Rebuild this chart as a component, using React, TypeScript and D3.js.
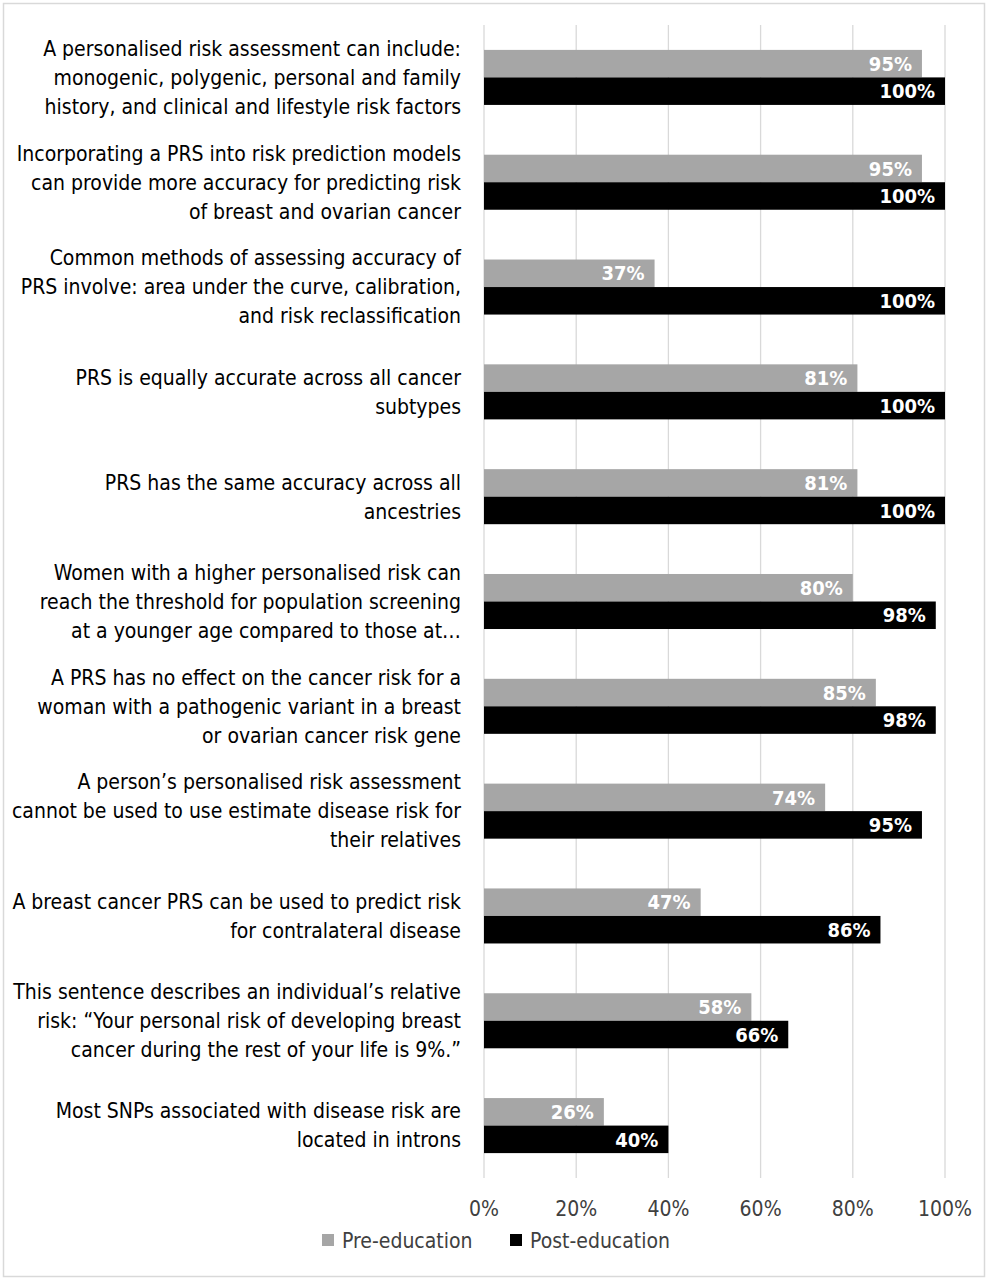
import React, { useEffect, useRef } from 'react';
import * as d3 from 'd3';

const categories: string[][] = [
    ["A personalised risk assessment can include:", "monogenic, polygenic, personal and family", "history, and clinical and lifestyle risk factors"],
    ["Incorporating a PRS into risk prediction models", "can provide more accuracy for predicting risk", "of breast and ovarian cancer"],
    ["Common methods of assessing accuracy of", "PRS involve: area under the curve, calibration,", "and risk reclassification"],
    ["PRS is equally accurate across all cancer", "subtypes"],
    ["PRS has the same accuracy across all", "ancestries"],
    ["Women with a higher personalised risk can", "reach the threshold for population screening", "at a younger age compared to those at\u2026"],
    ["A PRS has no effect on the cancer risk for a", "woman with a pathogenic variant in a breast", "or ovarian cancer risk gene"],
    ["A person\u2019s personalised risk assessment", "cannot be used to use estimate disease risk for", "their relatives"],
    ["A breast cancer PRS can be used to predict risk", "for contralateral disease"],
    ["This sentence describes an individual\u2019s relative", "risk: \u201cYour personal risk of developing breast", "cancer during the rest of your life is 9%.\u201d"],
    ["Most SNPs associated with disease risk are", "located in introns"],
];

const preEducation = [95, 95, 37, 81, 81, 80, 85, 74, 47, 58, 26];
const postEducation = [100, 100, 100, 100, 100, 98, 98, 95, 86, 66, 40];
const tickValues = [0, 20, 40, 60, 80, 100];
const seriesNames = ["Pre-education", "Post-education"];
const seriesColors = ["#A6A6A6", "#000000"];

const FONT = "'Liberation Sans Narrow', 'DejaVu Sans Condensed', sans-serif";

const App: React.FC = () => {
    const ref = useRef<SVGSVGElement>(null);

    useEffect(() => {
        const svg = d3.select(ref.current);
        svg.selectAll("*").remove();

        const width = 988;
        const height = 1280;
        const left = 484;
        const right = 945;
        const top = 25;
        const bottom = 1178;

        // outer frame
        svg.append("rect")
            .attr("x", 3.5).attr("y", 3.5)
            .attr("width", width - 7).attr("height", height - 7)
            .attr("fill", "white")
            .attr("stroke", "#D9D9D9")
            .attr("stroke-width", 1.5);

        const x = d3.scaleLinear().domain([0, 100]).range([left, right]);
        const y = d3.scaleBand<number>()
            .domain(d3.range(categories.length))
            .range([top, bottom])
            .paddingInner(0.475)
            .paddingOuter(0.2375);
        const sub = d3.scaleBand<number>().domain([0, 1]).range([0, y.bandwidth()]);

        // gridlines
        svg.append("g")
            .selectAll("line")
            .data(tickValues)
            .enter()
            .append("line")
            .attr("x1", d => x(d))
            .attr("x2", d => x(d))
            .attr("y1", top)
            .attr("y2", bottom)
            .attr("stroke", "#D9D9D9")
            .attr("stroke-width", 1.3);

        // tick labels
        svg.append("g")
            .selectAll("text")
            .data(tickValues)
            .enter()
            .append("text")
            .attr("x", d => x(d))
            .attr("y", 1216)
            .attr("text-anchor", "middle")
            .style("font-family", FONT)
            .style("font-size", "21px")
            .style("fill", "#404040")
            .text(d => d + "%");

        // bars
        const series = [preEducation, postEducation];
        series.forEach((vals, s) => {
            const g = svg.append("g");
            g.selectAll("rect")
                .data(vals)
                .enter()
                .append("rect")
                .attr("x", x(0))
                .attr("y", (_d, i) => (y(i) as number) + (sub(s) as number))
                .attr("width", d => x(d) - x(0))
                .attr("height", sub.bandwidth())
                .attr("fill", seriesColors[s]);

            g.selectAll("text")
                .data(vals)
                .enter()
                .append("text")
                .attr("x", d => x(d) - 10)
                .attr("y", (_d, i) => (y(i) as number) + (sub(s) as number) + sub.bandwidth() / 2)
                .attr("dy", "0.36em")
                .attr("text-anchor", "end")
                .style("font-family", FONT)
                .style("font-size", "20px")
                .style("font-weight", "bold")
                .style("fill", "white")
                .text(d => d + "%");
        });

        // category labels
        const lineH = 29;
        const lab = svg.append("g");
        categories.forEach((lines, i) => {
            const cy = (y(i) as number) + y.bandwidth() / 2;
            const t = lab.append("text")
                .attr("text-anchor", "end")
                .style("font-family", FONT)
                .style("font-size", "21px")
                .style("fill", "#000");
            lines.forEach((ln, k) => {
                t.append("tspan")
                    .attr("x", 461)
                    .attr("y", cy + (k - (lines.length - 1) / 2) * lineH)
                    .attr("dy", "0.35em")
                    .text(ln);
            });
        });

        // legend
        const legendX = [322, 510];
        seriesNames.forEach((name, s) => {
            svg.append("rect")
                .attr("x", legendX[s])
                .attr("y", 1234)
                .attr("width", 12)
                .attr("height", 12)
                .attr("fill", seriesColors[s]);
            svg.append("text")
                .attr("x", legendX[s] + 20)
                .attr("y", 1240)
                .attr("dy", "0.36em")
                .style("font-family", FONT)
                .style("font-size", "21px")
                .style("fill", "#404040")
                .text(name);
        });
    }, []);

    return (
        <svg ref={ref} width={988} height={1280}
            style={{ display: "block", position: "absolute", left: 0, top: 0 }} />
    );
};

export default App;
